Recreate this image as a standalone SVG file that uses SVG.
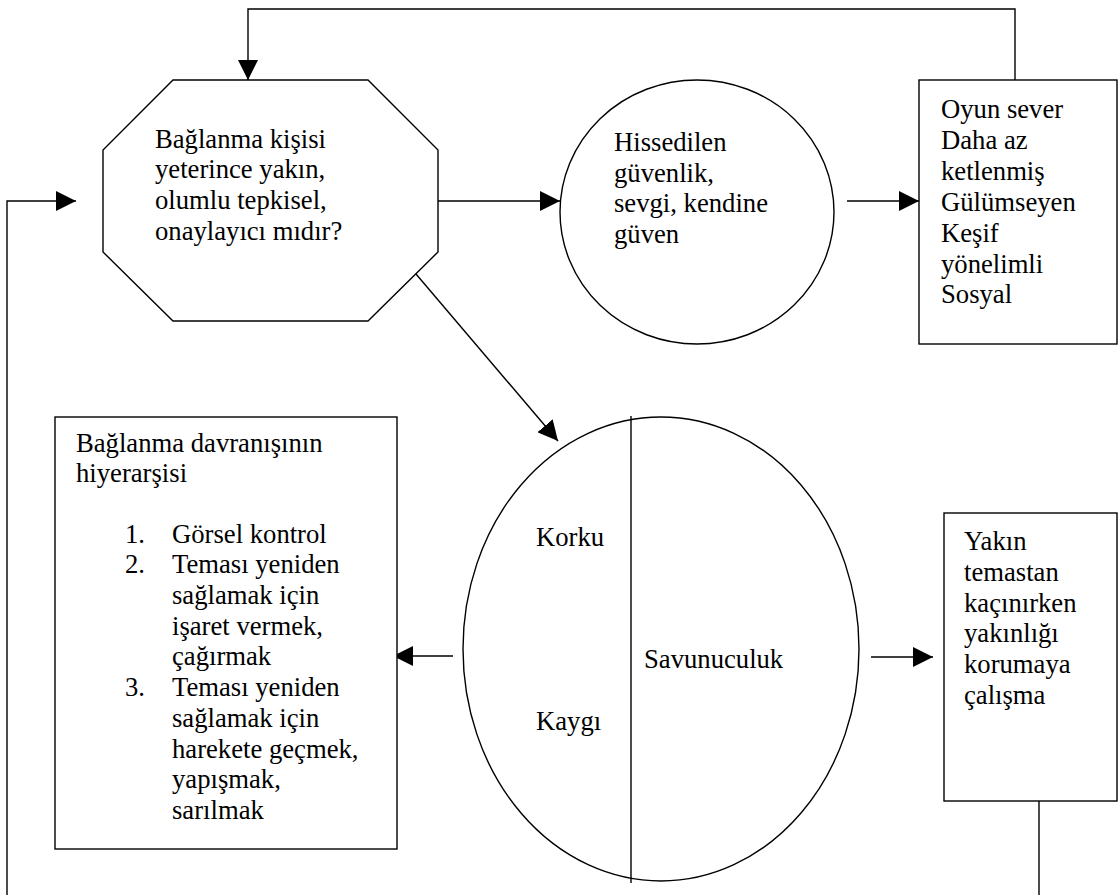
<svg xmlns="http://www.w3.org/2000/svg" width="1118" height="895" viewBox="0 0 1118 895">
<style>
  .shape { fill: #fff; stroke: #000; stroke-width: 1.4; }
  .conn { fill: none; stroke: #000; stroke-width: 1.4; }
  text { font-family: "Liberation Serif", "Times New Roman", serif; font-size: 26.67px; fill: #000; }
</style>
<defs>
  <marker id="arr" markerUnits="userSpaceOnUse" markerWidth="20" markerHeight="20" refX="20" refY="10" orient="auto">
    <path d="M0,0 L20,10 L0,20 Z" fill="#000"/>
  </marker>
</defs>
<rect x="0" y="0" width="1118" height="895" fill="#fff"/>

<g id="connectors">
  <polyline class="conn" points="1015,80 1015,9 248,9 248,80" marker-end="url(#arr)"/>
  <polyline class="conn" points="7,895 7,201 76,201" marker-end="url(#arr)"/>
  <line class="conn" x1="438" y1="201" x2="560" y2="201" marker-end="url(#arr)"/>
  <line class="conn" x1="847" y1="201" x2="919" y2="201" marker-end="url(#arr)"/>
  <line class="conn" x1="416" y1="274" x2="558" y2="441" marker-end="url(#arr)"/>
  <line class="conn" x1="453" y1="656" x2="393" y2="656" marker-end="url(#arr)"/>
  <line class="conn" x1="871" y1="657" x2="933" y2="657" marker-end="url(#arr)"/>
  <line class="conn" x1="1039" y1="801" x2="1039" y2="895"/>
</g>

<g id="octagon">
  <polygon class="shape" points="173,80 368,80 438,150 438,252 368,321 173,321 103,252 103,150"/>
  <text x="155" y="147.5">Bağlanma kişisi</text>
  <text x="155" y="178">yeterince yakın,</text>
  <text x="155" y="209">olumlu tepkisel,</text>
  <text x="155" y="240">onaylayıcı mıdır?</text>
</g>

<g id="circle">
  <ellipse class="shape" cx="697" cy="212" rx="137" ry="132"/>
  <text x="614" y="151">Hissedilen</text>
  <text x="614" y="182">güvenlik,</text>
  <text x="614" y="212">sevgi, kendine</text>
  <text x="614" y="243">güven</text>
</g>

<g id="outcome-secure">
  <rect class="shape" x="919" y="80" width="198" height="264"/>
  <text x="941" y="118">Oyun sever</text>
  <text x="941" y="149">Daha az</text>
  <text x="941" y="180">ketlenmiş</text>
  <text x="941" y="211">Gülümseyen</text>
  <text x="941" y="242">Keşif</text>
  <text x="941" y="273">yönelimli</text>
  <text x="941" y="303">Sosyal</text>
</g>

<g id="hierarchy">
  <rect class="shape" x="55" y="417" width="342" height="432"/>
  <text x="76" y="452">Bağlanma davranışının</text>
  <text x="76" y="482">hiyerarşisi</text>
  <text x="125" y="543">1.</text>
  <text x="172" y="543">Görsel kontrol</text>
  <text x="125" y="573">2.</text>
  <text x="172" y="573">Teması yeniden</text>
  <text x="172" y="604">sağlamak için</text>
  <text x="172" y="635">işaret vermek,</text>
  <text x="172" y="665">çağırmak</text>
  <text x="125" y="696">3.</text>
  <text x="172" y="696">Teması yeniden</text>
  <text x="172" y="727">sağlamak için</text>
  <text x="172" y="758">harekete geçmek,</text>
  <text x="172" y="788">yapışmak,</text>
  <text x="172" y="819">sarılmak</text>
</g>

<g id="fear-ellipse">
  <ellipse class="shape" cx="661" cy="649" rx="198" ry="232"/>
  <line class="conn" x1="631" y1="416" x2="631" y2="883"/>
  <text x="536" y="546">Korku</text>
  <text x="536" y="730">Kaygı</text>
  <text x="644" y="668">Savunuculuk</text>
</g>

<g id="outcome-avoidant">
  <rect class="shape" x="944" y="513" width="173" height="288"/>
  <text x="964" y="550">Yakın</text>
  <text x="964" y="581">temastan</text>
  <text x="964" y="612">kaçınırken</text>
  <text x="964" y="642">yakınlığı</text>
  <text x="964" y="673">korumaya</text>
  <text x="964" y="704">çalışma</text>
</g>
</svg>
